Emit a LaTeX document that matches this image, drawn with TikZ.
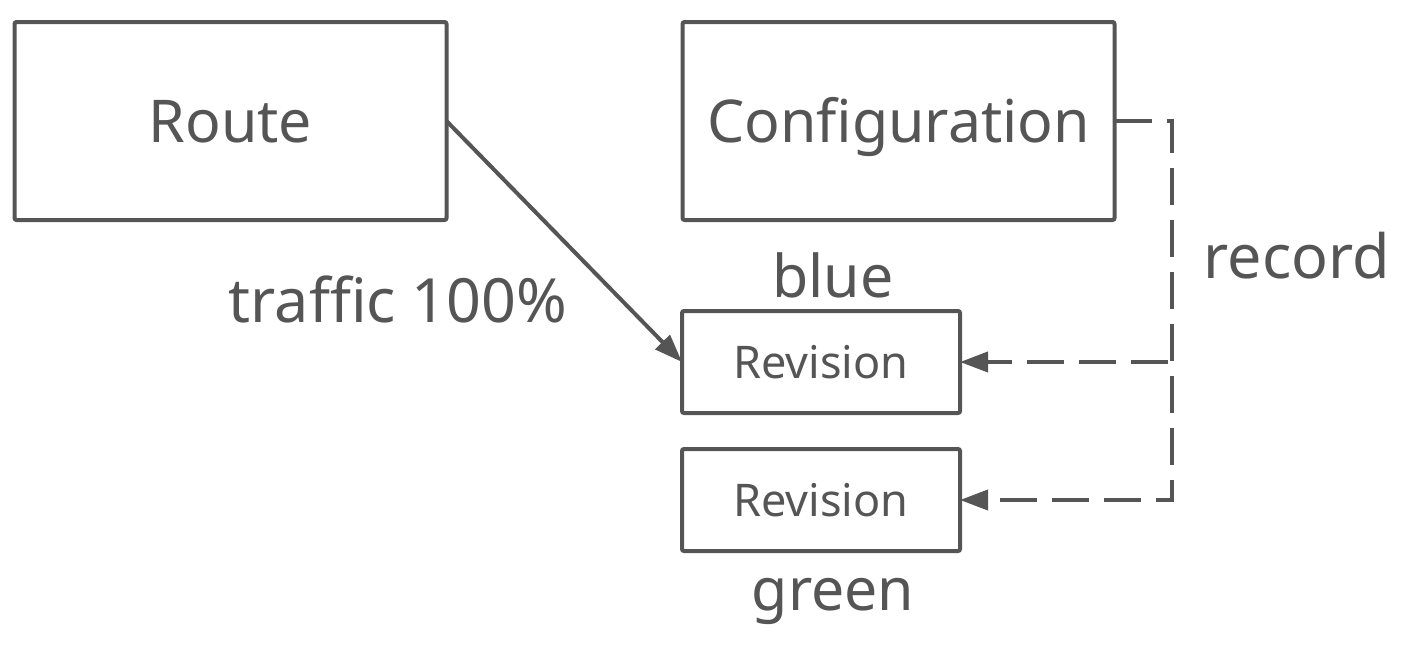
\documentclass[tikz,border=0pt]{standalone}
\usepackage{fontspec}
\setmainfont{Noto Sans}
\usetikzlibrary{arrows.meta}
\definecolor{ink}{HTML}{555555}
\begin{document}
\begin{tikzpicture}[x=0.5pt,y=-0.5pt,
  box/.style={draw=ink,line width=2pt,rounded corners=1pt,inner sep=0pt,outer sep=0pt,text=ink,text depth=0pt},
  bigbox/.style={box,minimum width=216pt,minimum height=99pt,font=\fontsize{29.5}{31}\selectfont,text height=21pt},
  smallbox/.style={box,minimum width=139pt,minimum height=51pt,font=\fontsize{22.5}{24}\selectfont,text height=16pt},
  lbl/.style={text=ink,anchor=base,inner sep=0pt,font=\fontsize{29.5}{31}\selectfont},
  conn/.style={draw=ink,line width=2pt,-{Triangle[length=14pt,width=10pt]}},
  dconn/.style={conn,dash pattern=on 18.5pt off 7.5pt}]
\useasboundingbox (0,0) rectangle (1406,648);
\node[bigbox] (route) at (230.5,121) {Route};
\node[bigbox] (config) at (898.5,121) {Configuration};
\node[smallbox] (rev1) at (821,362) {Revision};
\node[smallbox] (rev2) at (821,500) {Revision};
\node[lbl] (blue) at (833,297) {blue};
\node[lbl] (green) at (833,610) {green};
\node[lbl,font=\fontsize{30.5}{32}\selectfont] (traffic) at (398,322) {traffic 100\%};
\node[lbl,font=\fontsize{30.5}{32}\selectfont] (record) at (1297,278) {record};
\coordinate (c1) at (1172,121);
\coordinate (c2) at (1172,500);
\coordinate (c3) at (1168,362);
\draw[conn] (route.east) -- (rev1.west);
\draw[dconn] (config.east) -- (c1) -- (c2) -- (rev2.east);
\draw[dconn] (c3) -- (rev1.east);
\end{tikzpicture}
\end{document}
